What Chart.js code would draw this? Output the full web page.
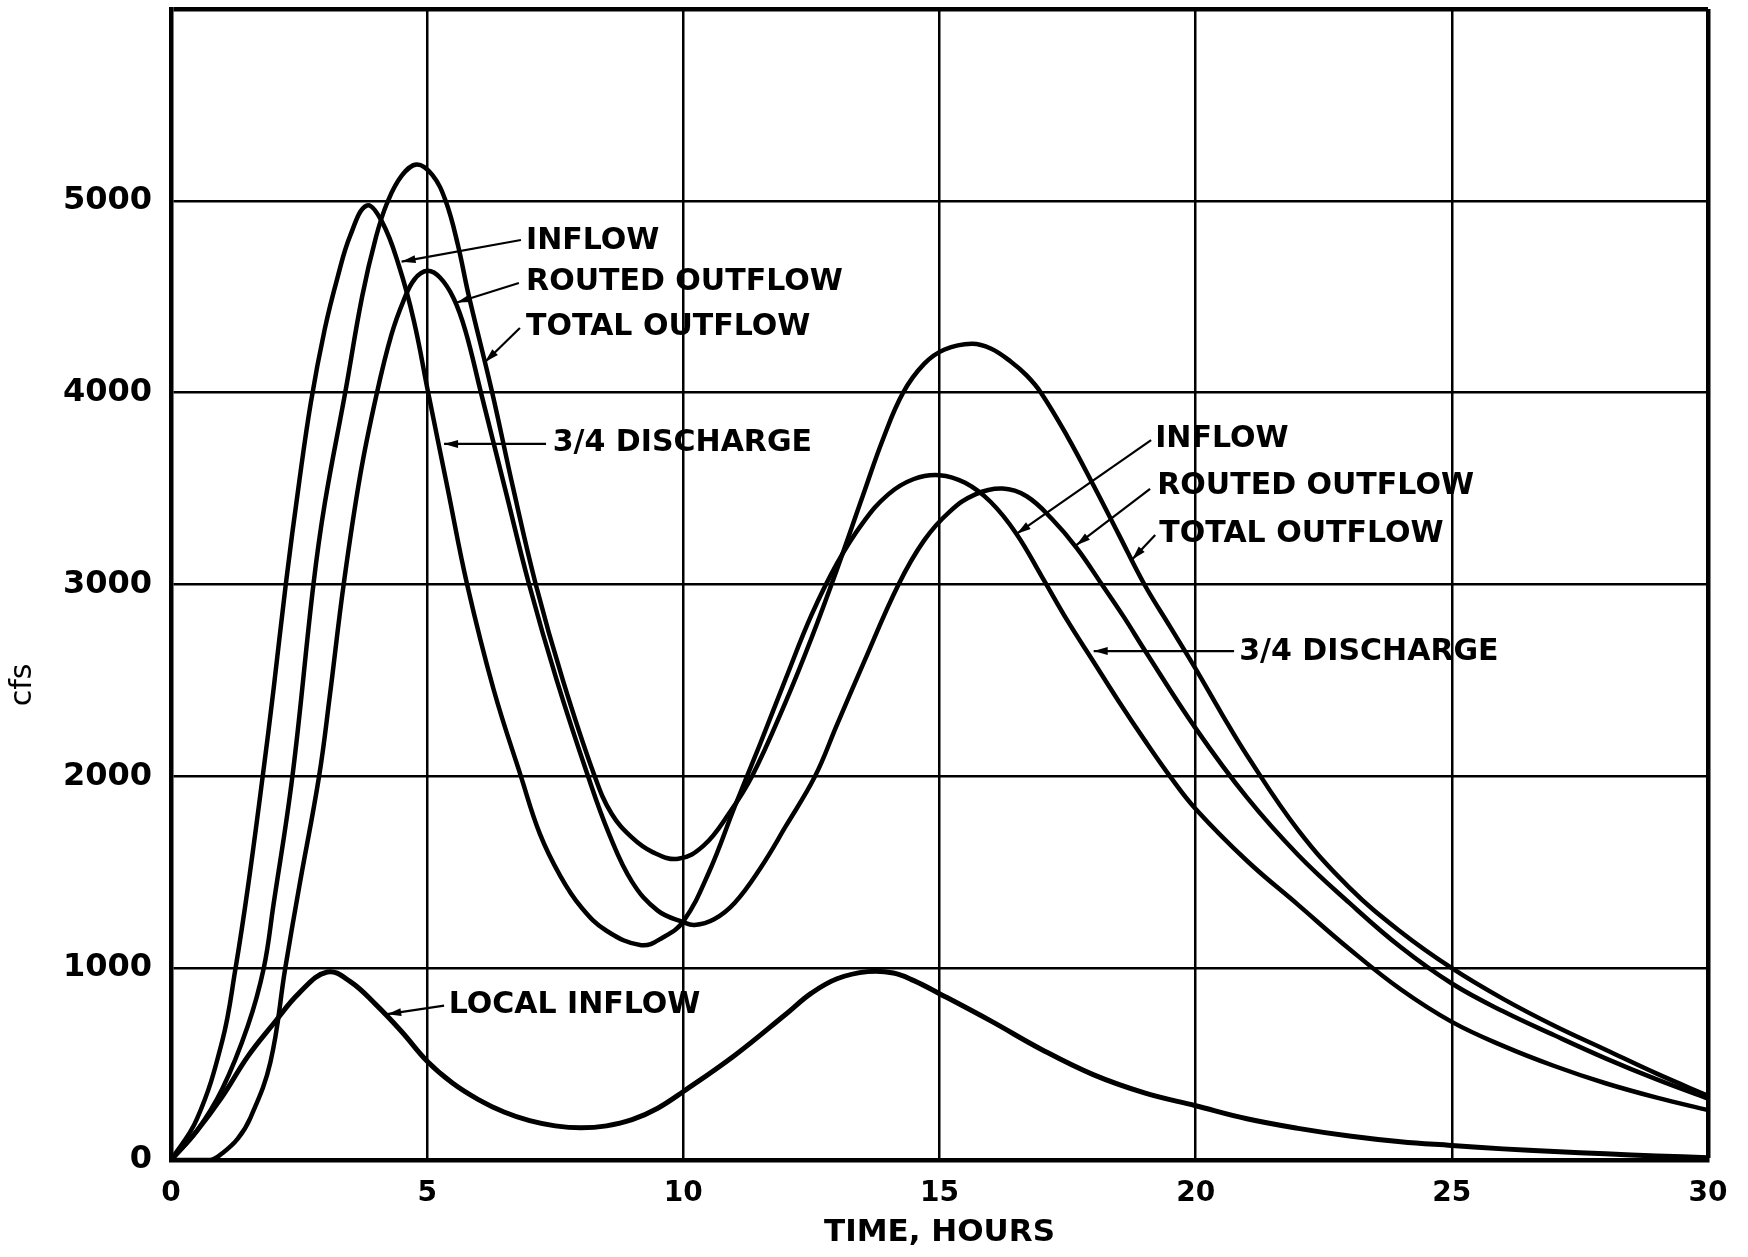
<!DOCTYPE html>
<html>
<head>
<meta charset="utf-8">
<title>Inflow, outflow and local inflow hydrographs</title>
<script src="https://cdn.jsdelivr.net/npm/chart.js@4.4.1/dist/chart.umd.min.js"></script>
<style>
  html, body { margin: 0; padding: 0; background: #fff; }
  #wrap { width: 1748px; height: 1257px; }
</style>
</head>
<body>
<div id="wrap"><canvas id="hydro" width="1748" height="1257"></canvas></div>
<script>
// values (hours, cfs)
const inflowHours = [0, 0.5, 1, 1.26, 1.5, 1.79, 2, 2.24, 2.5, 2.73, 3, 3.25, 3.5, 3.82, 4.12, 4.45, 4.74, 5.02, 5.4, 5.78, 6.3, 6.83, 7.2, 7.6, 8, 8.5, 9.18, 9.6, 10, 10.5, 11, 11.5, 12, 12.5, 13, 13.5, 14, 14.5, 15, 15.5, 16, 16.5, 17, 17.5, 18, 18.5, 19, 19.5, 20, 21, 22, 23, 24, 25, 26, 27, 28, 29, 30];
const inflowCfs = [0, 210, 620, 1000, 1420, 2000, 2450, 3000, 3530, 3950, 4330, 4600, 4820, 4975, 4890, 4660, 4375, 4000, 3500, 3000, 2450, 2000, 1700, 1480, 1320, 1195, 1120, 1160, 1244, 1500, 1840, 2170, 2510, 2840, 3110, 3320, 3470, 3550, 3570, 3530, 3430, 3265, 3040, 2810, 2600, 2390, 2190, 2000, 1830, 1560, 1330, 1100, 890, 720, 595, 490, 400, 325, 260];

const routedHours = [0, 0.77, 1, 1.3, 1.55, 1.94, 2.23, 2.5, 2.89, 3.1, 3.37, 3.7, 4.02, 4.3, 4.54, 4.75, 5, 5.25, 5.52, 5.75, 6.05, 6.52, 6.99, 7.53, 8.14, 8.55, 9, 9.5, 10, 10.22, 10.6, 11, 11.5, 12, 12.57, 13, 13.5, 14.2, 14.7, 15.2, 15.7, 16.23, 16.7, 17.2, 17.68, 18.17, 18.6, 19, 20, 21, 22, 23, 24, 25, 26, 27, 28, 29, 30];
const routedCfs = [0, 0, 35, 110, 220, 510, 1000, 1420, 2000, 2420, 3000, 3580, 4000, 4300, 4480, 4590, 4635, 4600, 4490, 4320, 4000, 3500, 3000, 2500, 2000, 1700, 1450, 1300, 1240, 1225, 1255, 1340, 1520, 1740, 2000, 2270, 2580, 3000, 3230, 3380, 3470, 3500, 3460, 3340, 3190, 3000, 2830, 2660, 2250, 1890, 1590, 1340, 1110, 920, 775, 650, 530, 420, 320];

const totalHours = [0, 0.5, 1, 1.5, 1.81, 2, 2.37, 2.78, 3, 3.4, 3.73, 4, 4.22, 4.5, 4.8, 5.1, 5.36, 5.6, 5.8, 6.27, 6.68, 7.12, 7.65, 8.27, 8.6, 9, 9.4, 9.9, 10.4, 10.9, 11.34, 12, 12.5, 13, 13.5, 13.9, 14.29, 14.7, 15.1, 15.63, 16, 16.4, 16.7, 16.98, 17.5, 18, 18.5, 19, 19.5, 20, 20.5, 21, 22, 23, 24, 25, 26, 27, 28, 29, 30];
const totalCfs = [0, 150, 370, 700, 1000, 1330, 2000, 3000, 3420, 4000, 4500, 4810, 4990, 5130, 5190, 5135, 5000, 4770, 4520, 4000, 3500, 3000, 2500, 2000, 1805, 1680, 1605, 1570, 1640, 1810, 2000, 2390, 2720, 3080, 3460, 3760, 4000, 4150, 4225, 4255, 4230, 4160, 4090, 4000, 3770, 3520, 3260, 3000, 2780, 2560, 2330, 2110, 1720, 1420, 1190, 1000, 840, 700, 575, 450, 335];

const localHours = [0, 0.5, 1, 1.5, 2, 2.5, 3.05, 3.5, 4, 4.5, 5, 5.5, 6, 6.5, 7, 7.5, 8, 8.5, 9, 9.5, 10, 11, 12, 12.5, 13, 13.6, 14.1, 14.5, 15, 16, 17, 18, 19, 20, 21, 22, 23, 24, 25, 26, 27, 28, 29, 30];
const localCfs = [0, 150, 330, 540, 710, 870, 980, 930, 810, 670, 515, 400, 315, 250, 205, 178, 168, 178, 210, 270, 357, 545, 760, 870, 945, 982, 975, 935, 867, 725, 575, 445, 350, 283, 215, 165, 125, 95, 76, 58, 44, 32, 21, 12];

const xTickValues = [0, 5, 10, 15, 20, 25, 30];
const yTickValues = [0, 1000, 2000, 3000, 4000, 5000, 6000];

// curve callouts: label anchor, leader start and arrow tip, all in (hours, cfs)
const callouts = [
  { label: 'INFLOW',         text: [6.93, 4791],  tail: [6.83, 4796],  tip: [4.50, 4683] },
  { label: 'ROUTED OUTFLOW', text: [6.93, 4574],  tail: [6.79, 4572],  tip: [5.58, 4470] },
  { label: 'TOTAL OUTFLOW',  text: [6.93, 4340],  tail: [6.81, 4337],  tip: [6.13, 4160] },
  { label: '3/4 DISCHARGE',  text: [7.45, 3736],  tail: [7.32, 3733],  tip: [5.33, 3733] },
  { label: 'INFLOW',         text: [19.21, 3759], tail: [19.13, 3753], tip: [16.51, 3265] },
  { label: 'ROUTED OUTFLOW', text: [19.25, 3511], tail: [19.11, 3498], tip: [17.67, 3205] },
  { label: 'TOTAL OUTFLOW',  text: [19.29, 3261], tail: [19.21, 3258], tip: [18.76, 3130] },
  { label: '3/4 DISCHARGE',  text: [20.85, 2646], tail: [20.75, 2653], tip: [18.01, 2653] },
  { label: 'LOCAL INFLOW',   text: [5.42, 808],   tail: [5.33, 805],   tip: [4.22, 760] }
];

const FONT = '"DejaVu Sans", "Liberation Sans", sans-serif';

function toPoints(hours, cfs) {
  return hours.map((h, i) => ({ x: h, y: cfs[i] }));
}

function curve(label, hours, cfs, width) {
  return {
    label,
    data: toPoints(hours, cfs),
    borderColor: '#000',
    borderWidth: width,
    pointRadius: 0,
    fill: false,
    tension: 0.4
  };
}

// fixed axis boxes so the plot frame lands where it does in the original
function pinScale(size) {
  return function (scale) {
    if (scale.isHorizontal()) scale.height = size; else scale.width = size;
    scale.paddingTop = 0; scale.paddingBottom = 0;
    scale.paddingLeft = 0; scale.paddingRight = 0;
  };
}

const calloutPlugin = {
  id: 'callouts',
  afterDatasetsDraw(chart) {
    const { ctx, scales: { x, y } } = chart;
    ctx.save();
    ctx.fillStyle = '#000';
    ctx.strokeStyle = '#000';
    ctx.font = 'bold 30px ' + FONT;
    ctx.textBaseline = 'middle';
    ctx.textAlign = 'left';

    callouts.forEach(c => {
      ctx.fillText(c.label, x.getPixelForValue(c.text[0]), y.getPixelForValue(c.text[1]));

      const x0 = x.getPixelForValue(c.tail[0]), y0 = y.getPixelForValue(c.tail[1]);
      const x1 = x.getPixelForValue(c.tip[0]), y1 = y.getPixelForValue(c.tip[1]);
      ctx.lineWidth = 2.2;
      ctx.beginPath();
      ctx.moveTo(x0, y0);
      ctx.lineTo(x1, y1);
      ctx.stroke();

      const a = Math.atan2(y1 - y0, x1 - x0);
      const len = 14, half = 4;
      ctx.beginPath();
      ctx.moveTo(x1, y1);
      ctx.lineTo(x1 - len * Math.cos(a) + half * Math.sin(a), y1 - len * Math.sin(a) - half * Math.cos(a));
      ctx.lineTo(x1 - len * Math.cos(a) - half * Math.sin(a), y1 - len * Math.sin(a) + half * Math.cos(a));
      ctx.closePath();
      ctx.fill();
    });

    // y axis title sits low on the axis in the original
    ctx.font = '30px ' + FONT;
    ctx.textAlign = 'center';
    ctx.translate(x.left - 148, y.getPixelForValue(2476));
    ctx.rotate(-Math.PI / 2);
    ctx.fillText('cfs', 0, 0);
    ctx.restore();
  }
};

new Chart(document.getElementById('hydro'), {
  type: 'line',
  data: {
    datasets: [
      curve('Inflow (3/4 discharge)', inflowHours, inflowCfs, 4.5),
      curve('Routed outflow', routedHours, routedCfs, 4.5),
      curve('Total outflow', totalHours, totalCfs, 4.5),
      curve('Local inflow', localHours, localCfs, 5)
    ]
  },
  options: {
    responsive: false,
    animation: false,
    devicePixelRatio: 1,
    layout: { padding: { left: 0, right: 40, top: 9, bottom: 0 } },
    plugins: {
      legend: { display: false },
      tooltip: { enabled: false }
    },
    scales: {
      x: {
        type: 'linear',
        min: 0,
        max: 30,
        afterFit: pinScale(97),
        afterBuildTicks: scale => { scale.ticks = xTickValues.map(v => ({ value: v })); },
        ticks: {
          autoSkip: false,
          maxRotation: 0,
          padding: 17,
          color: '#000',
          font: { family: FONT, size: 28, weight: 'bold' }
        },
        grid: {
          color: '#000',
          drawTicks: false,
          lineWidth: c => (c.tick && c.tick.value === 30 ? 4.5 : 2.5)
        },
        border: { display: true, color: '#000', width: 4.5 },
        title: {
          display: true,
          text: 'TIME, HOURS',
          color: '#000',
          padding: 5,
          font: { family: FONT, size: 31, weight: 'bold' }
        }
      },
      y: {
        type: 'linear',
        min: 0,
        max: 6000,
        afterFit: pinScale(171),
        afterBuildTicks: scale => { scale.ticks = yTickValues.map(v => ({ value: v })); },
        ticks: {
          autoSkip: false,
          padding: 19,
          color: '#000',
          font: { family: FONT, size: 32, weight: 'bold' },
          callback: v => (v === 6000 ? '' : String(v))
        },
        grid: {
          color: '#000',
          drawTicks: false,
          lineWidth: c => (c.tick && c.tick.value === 6000 ? 4.5 : 2.5)
        },
        border: { display: true, color: '#000', width: 4.5 }
      }
    }
  },
  plugins: [calloutPlugin]
});
</script>
</body>
</html>
